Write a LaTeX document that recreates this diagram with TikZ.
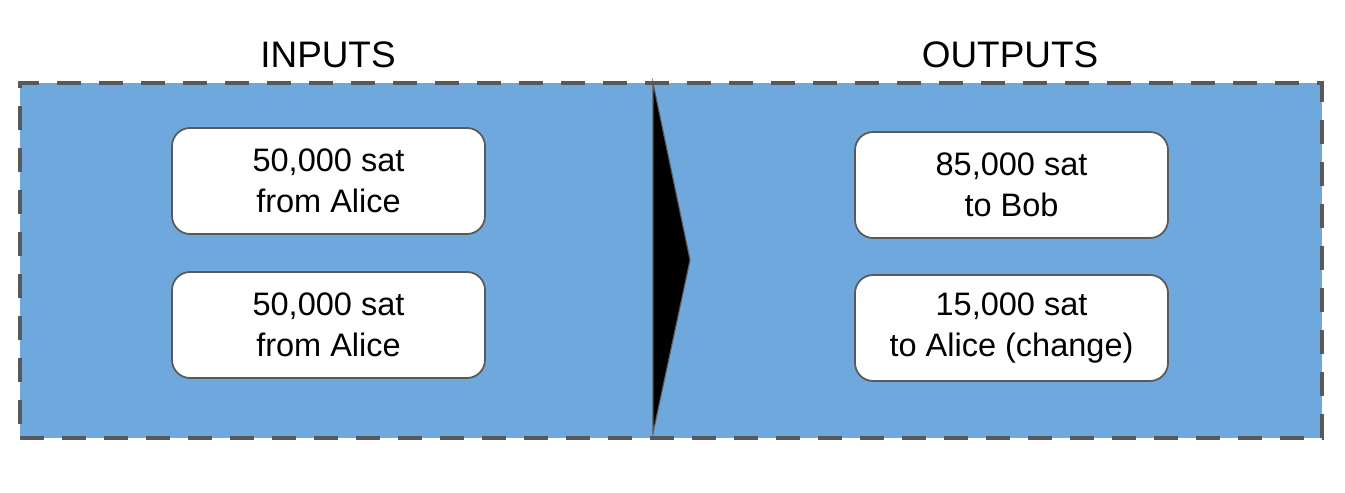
\documentclass[tikz,border=0pt]{standalone}
\usepackage{fontspec}
\setmainfont{Liberation Sans}
\definecolor{txblue}{HTML}{6FA8DC}
\definecolor{edgegray}{HTML}{595959}
\begin{document}
\begin{tikzpicture}[
    x=0.02cm, y=-0.02cm,
    txbox/.style={rectangle, fill=txblue, draw=edgegray, line width=2.3pt, dash pattern=on 0.48cm off 0.36cm, minimum width=26.04cm, minimum height=7.1cm, inner sep=0pt},
    coinbox/.style={rectangle, rounded corners=0.36cm, fill=white, draw=edgegray, line width=1pt, minimum width=6.26cm, minimum height=2.12cm, align=center, font=\fontsize{18.5}{23.5}\selectfont},
    title/.style={font=\fontsize{21}{24}\selectfont},
]
\useasboundingbox (0,0) rectangle (1345,493);

% transaction
\node[txbox] (tx) at (671,260.5) {};

% arrow
\coordinate (atop) at (653,83);
\coordinate (abot) at (653,433);
\coordinate (atip) at (690,260);
\draw[fill=black, draw=edgegray, line width=0.6pt] (atop) -- (atip) -- (abot) -- cycle;

% titles
\node[title] (inputs) at (328,55) {INPUTS};
\node[title] (outputs) at (1010,55) {OUTPUTS};

% inputs
\node[coinbox] (in1) at (328.5,181) {50,000 sat\\from Alice};
\node[coinbox] (in2) at (328.5,325) {50,000 sat\\from Alice};

% outputs
\node[coinbox] (out1) at (1011.5,185) {85,000 sat\\to Bob};
\node[coinbox] (out2) at (1011.5,328) {15,000 sat\\to Alice (change)};

\end{tikzpicture}
\end{document}
